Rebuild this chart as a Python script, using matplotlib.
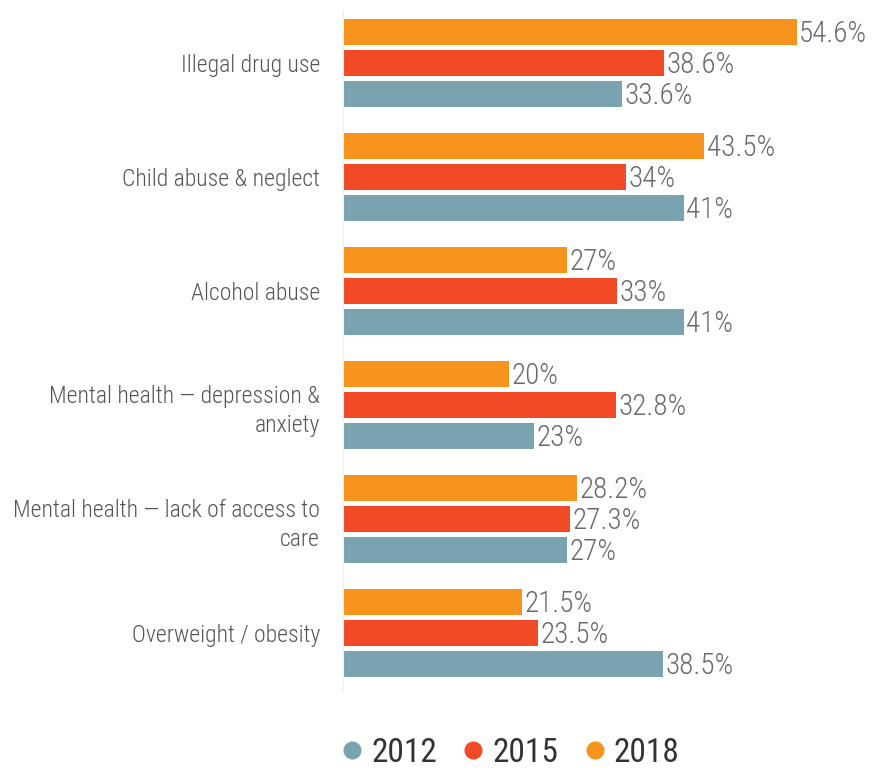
import matplotlib
matplotlib.use("Agg")
import matplotlib.pyplot as plt
from matplotlib import font_manager
from matplotlib.lines import Line2D
import numpy as np

# categories top to bottom
categories = [
    "Illegal drug use",
    "Child abuse & neglect",
    "Alcohol abuse",
    "Mental health \u2014 depression &\nanxiety",
    "Mental health \u2014 lack of access to\ncare",
    "Overweight / obesity",
]
v2018 = [54.6, 43.5, 27, 20, 28.2, 21.5]
v2015 = [38.6, 34, 33, 32.8, 27.3, 23.5]
v2012 = [33.6, 41, 41, 23, 27, 38.5]
lbl2018 = ["54.6%", "43.5%", "27%", "20%", "28.2%", "21.5%"]
lbl2015 = ["38.6%", "34%", "33%", "32.8%", "27.3%", "23.5%"]
lbl2012 = ["33.6%", "41%", "41%", "23%", "27%", "38.5%"]

c2012 = "#7aa3b0"
c2015 = "#f24a26"
c2018 = "#f7941d"

names = {f.name for f in font_manager.fontManager.ttflist}
font = "Roboto Condensed" if "Roboto Condensed" in names else "Roboto"
plt.rcParams["font.family"] = [font, "DejaVu Sans"]

fig = plt.figure(figsize=(8.73, 7.68), dpi=100)
ax = fig.add_axes([343 / 873, 78 / 768, 1 - 343 / 873, 680 / 768])

y = np.arange(len(categories))
step = 0.272
h = 0.228
series = [(v2018, lbl2018, c2018, -step), (v2015, lbl2015, c2015, 0), (v2012, lbl2012, c2012, step)]
for vals, lbls, col, off in series:
    ax.barh(y + off, vals, height=h, color=col)
    for yi, v, t in zip(y, vals, lbls):
        ax.text(v + 0.3, yi + off + 0.02, t, va="center", ha="left",
                fontsize=21, color="#6a6a6a", fontweight="light")

ax.set_xlim(0, 530 / 8.31)
ax.set_ylim(5.5, -0.465)
ax.set_yticks(y)
ax.set_yticklabels(categories, fontsize=17, color="#555555", ha="right",
                   linespacing=1.35, fontweight="light")
ax.tick_params(axis="y", length=0, pad=16.5)
ax.set_xticks([])
for s in ["top", "right", "bottom"]:
    ax.spines[s].set_visible(False)
ax.spines["left"].set_color("#eeeeee")

handles = [Line2D([0], [0], marker="o", linestyle="", markersize=12, color=c)
           for c in (c2012, c2015, c2018)]
fig.legend(handles, ["2012", "2015", "2018"], loc="center",
           bbox_to_anchor=(511 / 873, 1 - 753 / 768), ncol=3, frameon=False,
           fontsize=24, handlelength=0.6, handletextpad=0.28, columnspacing=0.78,
           labelcolor="#333333")

fig.savefig("out.png", dpi=100, facecolor="white")
